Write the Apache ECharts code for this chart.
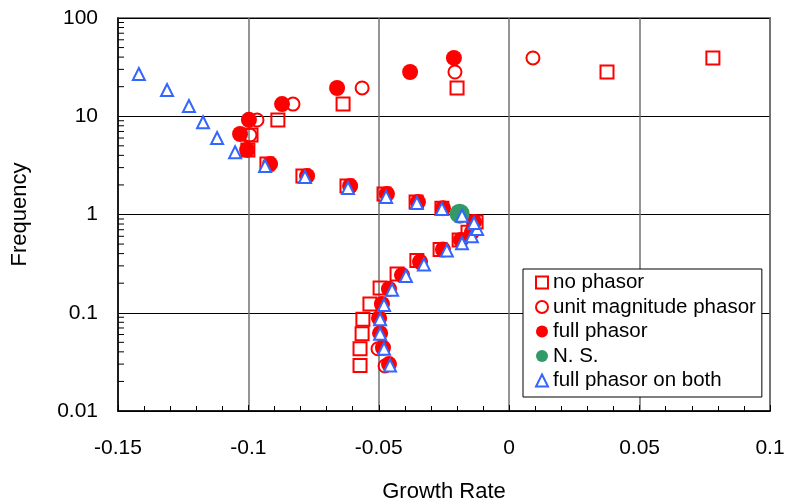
<!DOCTYPE html>
<html>
<head>
<meta charset="utf-8">
<title>Growth Rate vs Frequency</title>
<script src="https://cdn.jsdelivr.net/npm/echarts@6/dist/echarts.min.js"></script>
<style>
  html, body { margin: 0; padding: 0; background: #fff; }
</style>
</head>
<body>
<div id="main" style="width: 789px; height: 503px;"></div>
<script type="text/javascript">
// growth rate (x) and frequency (y) per series
var noPhasorRate = [-0.0572, -0.0572, -0.0564, -0.0561, -0.0534, -0.0495, -0.0430, -0.0354, -0.0265, -0.0192, -0.0158, -0.0127,
                    -0.0258, -0.0357, -0.0480, -0.0622, -0.0791, -0.0929, -0.1002, -0.0990, -0.0887, -0.0637, -0.0200, 0.0375, 0.0781];
var noPhasorFreq = [0.029, 0.043, 0.061, 0.086, 0.123, 0.179, 0.248, 0.34, 0.44, 0.55, 0.66, 0.84,
                    1.16, 1.34, 1.62, 1.95, 2.47, 3.27, 4.54, 6.44, 9.16, 13.3, 19.4, 28.2, 39.2];

var unitRate = [-0.0476, -0.0503, -0.0495, -0.0499, -0.0488, -0.0461, -0.0411, -0.0342, -0.0254, -0.0185, -0.0143, -0.0135,
                -0.0254, -0.0350, -0.0469, -0.0610, -0.0775, -0.0917, -0.0994, -0.0967, -0.0829, -0.0564, -0.0208, 0.0091];
var unitFreq = [0.0287, 0.043, 0.062, 0.088, 0.123, 0.175, 0.242, 0.33, 0.44, 0.55, 0.66, 0.84,
                1.16, 1.34, 1.62, 1.95, 2.47, 3.27, 6.44, 9.16, 13.3, 19.4, 28.2, 39.2];

var fullRate = [-0.0461, -0.0484, -0.0495, -0.0499, -0.0488, -0.0461, -0.0411, -0.0342, -0.0254, -0.0185, -0.0143, -0.0135,
                -0.0254, -0.0350, -0.0469, -0.0610, -0.0775, -0.0917, -0.1005, -0.1032, -0.0998, -0.0871, -0.0660, -0.0380, -0.0212];
var fullFreq = [0.030, 0.044, 0.062, 0.088, 0.123, 0.175, 0.242, 0.33, 0.44, 0.55, 0.66, 0.84,
                1.16, 1.34, 1.62, 1.95, 2.47, 3.27, 4.54, 6.6, 9.2, 13.3, 19.4, 28.2, 39.2];

var nsRate = [-0.019];
var nsFreq = [1.02];

var bothRate = [-0.0457, -0.0480, -0.0495, -0.0495, -0.0480, -0.0449, -0.0396, -0.0327, -0.0239, -0.0181, -0.0143, -0.0123, -0.0135,
                -0.0181, -0.0258, -0.0354, -0.0472, -0.0618, -0.0783, -0.0936, -0.1051, -0.1120, -0.1174, -0.1228, -0.1312, -0.142];
var bothFreq = [0.029, 0.043, 0.061, 0.086, 0.120, 0.171, 0.237, 0.31, 0.43, 0.51, 0.60, 0.71, 0.82,
                0.97, 1.14, 1.31, 1.51, 1.86, 2.41, 3.12, 4.3, 6.0, 8.7, 12.7, 18.5, 26.9];

var seriesNames = ['no phasor', 'unit magnitude phasor', 'full phasor', 'N. S.', 'full phasor on both'];
var xTicks = [-0.15, -0.1, -0.05, 0, 0.05, 0.1];
var yTicks = [0.01, 0.1, 1, 10, 100];

function pairs(xs, ys) {
  return xs.map(function (x, i) { return [x, ys[i]]; });
}

// log minor ticks 2..9 in every decade
var minorY = [];
for (var d = 0; d < yTicks.length - 1; d++) {
  for (var k = 2; k <= 9; k++) {
    minorY.push([xTicks[0], +(k * yTicks[d]).toPrecision(2)]);
  }
}

var fontFam = "'Liberation Sans', Arial, sans-serif";
var red = '#ff0000';

var myChart = echarts.init(document.getElementById('main'));
myChart.setOption({
  animation: false,
  backgroundColor: '#ffffff',
  textStyle: { fontFamily: fontFam },
  grid: {
    left: 118, right: 19, top: 18, bottom: 92,
    outerBoundsMode: 'none', containLabel: false,
    show: true, borderColor: '#808080', borderWidth: 2, backgroundColor: 'transparent'
  },
  legend: {
    data: seriesNames,
    orient: 'vertical',
    left: 523, top: 269,
    itemWidth: 12, itemHeight: 12, itemGap: 3.5,
    backgroundColor: '#ffffff',
    borderColor: '#000000', borderWidth: 1,
    padding: [3, 6, 6, 12],
    textStyle: { fontFamily: fontFam, fontSize: 20.5, lineHeight: 20, color: '#000' }
  },
  xAxis: {
    type: 'value',
    min: xTicks[0], max: xTicks[xTicks.length - 1], interval: 0.05,
    name: 'Growth Rate', nameLocation: 'middle', nameGap: 70,
    nameTextStyle: { fontFamily: fontFam, fontSize: 22, color: '#000' },
    axisLine: { show: true, onZero: false, lineStyle: { color: '#000', width: 1.5 } },
    axisTick: { show: true, inside: true, length: 6, lineStyle: { color: '#000' } },
    minorTick: { show: true, splitNumber: 5, length: 5, lineStyle: { color: '#000' } },
    axisLabel: { fontFamily: fontFam, fontSize: 21, color: '#000', margin: 27 },
    splitLine: { show: true, lineStyle: { color: '#707070', width: 1.5 } }
  },
  yAxis: {
    type: 'log', logBase: 10,
    min: yTicks[0], max: yTicks[yTicks.length - 1],
    name: 'Frequency', nameLocation: 'middle', nameGap: 87,
    nameTextStyle: { fontFamily: fontFam, fontSize: 22, color: '#000' },
    axisLine: { show: true, onZero: false, lineStyle: { color: '#000', width: 1.5 } },
    axisTick: { show: false },
    axisLabel: {
      fontFamily: fontFam, fontSize: 21, color: '#000', margin: 20,
      formatter: function (v) { return String(+(+v).toPrecision(3)); }
    },
    splitLine: { show: true, lineStyle: { color: '#000', width: 1 } }
  },
  series: [
    {
      name: 'minor', type: 'custom', silent: true, z: 1,
      data: minorY,
      renderItem: function (params, api) {
        var p = api.coord([api.value(0), api.value(1)]);
        return {
          type: 'line',
          shape: { x1: p[0], y1: p[1], x2: p[0] + 6, y2: p[1] },
          style: { stroke: '#000', lineWidth: 1 }
        };
      }
    },
    {
      name: seriesNames[0], type: 'scatter', symbol: 'rect', symbolSize: 13,
      itemStyle: { color: 'rgba(0,0,0,0)', borderColor: red, borderWidth: 2, opacity: 1 },
      data: pairs(noPhasorRate, noPhasorFreq)
    },
    {
      name: seriesNames[1], type: 'scatter', symbol: 'circle', symbolSize: 13,
      itemStyle: { color: 'rgba(0,0,0,0)', borderColor: red, borderWidth: 2, opacity: 1 },
      data: pairs(unitRate, unitFreq)
    },
    {
      name: seriesNames[2], type: 'scatter', symbol: 'circle', symbolSize: 16,
      itemStyle: { color: red, opacity: 1 },
      data: pairs(fullRate, fullFreq)
    },
    {
      name: seriesNames[3], type: 'scatter', symbol: 'circle', symbolSize: 20,
      itemStyle: { color: '#339966', opacity: 1 },
      data: pairs(nsRate, nsFreq)
    },
    {
      name: seriesNames[4], type: 'scatter', symbol: 'triangle', symbolSize: 12,
      itemStyle: { color: '#ffffff', borderColor: '#3366ff', borderWidth: 2, opacity: 1 },
      data: pairs(bothRate, bothFreq)
    }
  ]
});
</script>
</body>
</html>
